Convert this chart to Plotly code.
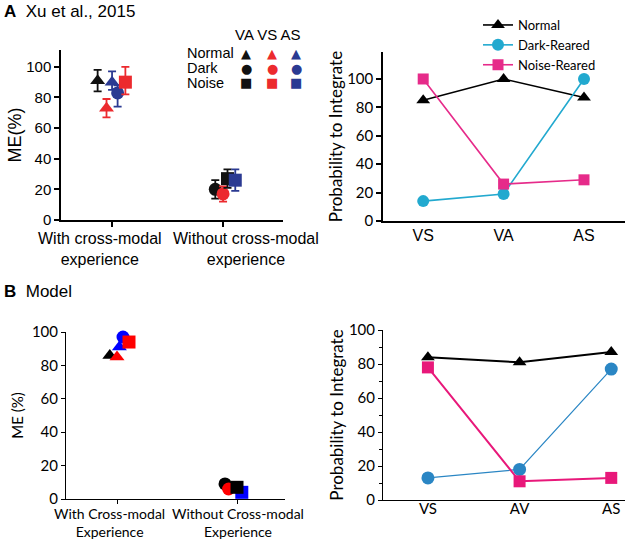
import plotly.graph_objects as go

# ---- data ----
conditions = ['Normal VA', 'Normal VS', 'Normal AS', 'Dark AS', 'Noise VS',
              'Dark VA', 'Dark VS', 'Noise VA', 'Noise AS']
groups = [1, 1, 1, 1, 1, 2, 2, 2, 2]   # 1 = with, 2 = without cross-modal experience
group_labels_a = ['With cross-modal<br>experience', 'Without cross-modal<br>experience']
group_labels_b = ['With Cross-modal<br>Experience', 'Without Cross-modal<br>Experience']

xu_me = [91, 73, 90, 83, 90, 20, 17, 27, 26]
xu_err_up = [7, 6, 7, 5, 10, 6, 5, 6, 7]
xu_err_down = [7, 6, 5, 9, 8, 6, 5, 6, 7]
model_me = [86, 85, 91, 97, 94, 9, 6, 7, 4]

pairs_a = ['VS', 'VA', 'AS']
xu_normal = [85, 100, 87]
xu_dark = [14, 19, 100]
xu_noise = [100, 26, 29]

pairs_b = ['VS', 'AV', 'AS']
model_normal = [84, 81, 87]
model_dark = [13, 18, 77]
model_noise = [78, 11, 13]

# ---- style ----
W, H = 640, 541
ARIAL = 'Liberation Sans, Arial, sans-serif'
MYRIAD = 'Lato, Open Sans, sans-serif'
jitter_a = [-0.13, -0.05, 0.0, 0.05, 0.12, -0.07, 0.0, 0.04, 0.11]
jitter_b = [-0.06, 0.0, 0.02, 0.05, 0.10, -0.10, -0.07, 0.0, 0.04]
symbols = {'Normal': 'triangle-up', 'Dark': 'circle', 'Noise': 'square'}
cols_a = {'VA': '#111111', 'VS': '#ec2a2e', 'AS': '#2b3a92'}
cols_b = {'VA': '#000000', 'VS': '#ff0000', 'AS': '#0000ff'}


def px_x(p):
    return p / W


def px_y(p):
    return 1 - p / H


def label(x, y, text, font, xanchor='center'):
    fig.add_annotation(x=px_x(x), y=px_y(y), xref='paper', yref='paper',
                       xanchor=xanchor, yanchor='middle', showarrow=False,
                       text=text, font=font)


fig = go.Figure()

# Panel A left
for i, c in enumerate(conditions):
    rear, pair = c.split()
    fig.add_trace(go.Scatter(
        x=[groups[i] + jitter_a[i]], y=[xu_me[i]],
        mode='markers',
        marker=dict(symbol=symbols[rear], size=13, color=cols_a[pair]),
        error_y=dict(type='data', symmetric=False, array=[xu_err_up[i]],
                     arrayminus=[xu_err_down[i]], color=cols_a[pair],
                     thickness=1.8, width=4),
        showlegend=False, xaxis='x', yaxis='y', cliponaxis=False
    ))

# Panel B left
order_b = [0, 2, 1, 3, 4, 5, 6, 8, 7]
for i in order_b:
    rear, pair = conditions[i].split()
    fig.add_trace(go.Scatter(
        x=[groups[i] + jitter_b[i]], y=[model_me[i]],
        mode='markers',
        marker=dict(symbol=symbols[rear], size=13, color=cols_b[pair]),
        showlegend=False, xaxis='x3', yaxis='y3', cliponaxis=False
    ))

# Panel A right
line_specs_a = [
    ('Normal', xu_normal, '#000000', 'triangle-up', 12),
    ('Dark-Reared', xu_dark, '#22a9cf', 'circle', 12),
    ('Noise-Reared', xu_noise, '#e62b8a', 'square', 11),
]
for name, vals, col, sym, sz in line_specs_a:
    fig.add_trace(go.Scatter(
        x=pairs_a, y=vals, name=name, mode='lines+markers',
        line=dict(color=col, width=1.6),
        marker=dict(symbol=sym, size=sz, color=col),
        xaxis='x2', yaxis='y2', cliponaxis=False
    ))

# Panel B right
line_specs_b = [
    ('Normal', model_normal, '#000000', 'triangle-up', 12, 2),
    ('Dark-Reared', model_dark, '#2a86c4', 'circle', 13, 1.2),
    ('Noise-Reared', model_noise, '#e8187a', 'square', 12, 2),
]
for name, vals, col, sym, sz, lw in line_specs_b:
    fig.add_trace(go.Scatter(
        x=pairs_b, y=vals, name=name, mode='lines+markers',
        line=dict(color=col, width=lw),
        marker=dict(symbol=sym, size=sz, color=col),
        showlegend=False, xaxis='x4', yaxis='y4', cliponaxis=False
    ))

axis_common = dict(showgrid=False, zeroline=False, showline=True,
                   linecolor='black', linewidth=1.5, ticks='outside',
                   tickcolor='black', ticklen=5, tickwidth=1.5,
                   automargin=False, tickangle=0)

fig.update_layout(
    width=W, height=H,
    margin=dict(l=0, r=0, t=0, b=0),
    paper_bgcolor='white', plot_bgcolor='white',
    font=dict(family=ARIAL, color='black', size=14),
    xaxis=dict(axis_common, domain=[px_x(61), px_x(283)], range=[0.54, 2.54],
               tickvals=[1, 2], showticklabels=False, anchor='y'),
    yaxis=dict(axis_common, domain=[px_y(220), px_y(50)], range=[0, 111],
               tickvals=[0, 20, 40, 60, 80, 100], tickfont=dict(size=15),
               title=dict(text='ME(%)', font=dict(size=18), standoff=0), anchor='x'),
    xaxis2=dict(axis_common, domain=[px_x(383), px_x(625)], range=[-0.5, 2.51],
                type='category', ticks='', tickfont=dict(size=16),
                ticklabelstandoff=-1, anchor='y2'),
    yaxis2=dict(axis_common, domain=[px_y(221), px_y(52)], range=[0, 119],
                tickvals=[0, 20, 40, 60, 80, 100], tickfont=dict(family=MYRIAD, size=15),
                title=dict(text='Probability to Integrate',
                           font=dict(family=MYRIAD, size=17), standoff=0),
                anchor='x2'),
    xaxis3=dict(axis_common, domain=[px_x(66), px_x(285)], range=[0.575, 2.4],
                tickvals=[1, 2], showticklabels=False, linewidth=1, tickwidth=1,
                ticklen=4, anchor='y3'),
    yaxis3=dict(axis_common, domain=[px_y(499), px_y(332)], range=[0, 100],
                tickvals=[0, 20, 40, 60, 80, 100], linewidth=1, tickwidth=1, ticklen=4,
                tickfont=dict(family=MYRIAD, size=15),
                title=dict(text='ME (%)', font=dict(family=MYRIAD, size=15), standoff=4),
                anchor='x3'),
    xaxis4=dict(axis_common, domain=[px_x(383), px_x(625)], range=[-0.49, 2.15],
                type='category', linewidth=1, tickwidth=1, ticks='',
                tickfont=dict(family=MYRIAD, size=15), ticklabelstandoff=-5,
                anchor='y4'),
    yaxis4=dict(axis_common, domain=[px_y(500), px_y(330)], range=[0, 100],
                tickvals=[0, 20, 40, 60, 80, 100], linewidth=1, tickwidth=1, ticklen=4,
                minor=dict(dtick=10, ticks='outside', ticklen=3, tickcolor='black'),
                tickfont=dict(family=MYRIAD, size=15),
                title=dict(text='Probability to Integrate',
                           font=dict(family=MYRIAD, size=17), standoff=0),
                anchor='x4'),
    legend=dict(x=px_x(478), y=px_y(10), xanchor='left', yanchor='top',
                bgcolor='rgba(0,0,0,0)', font=dict(family=MYRIAD, size=13),
                itemwidth=30, tracegroupgap=0),
)

# Category labels (set slightly off the ticks, as in the original figure)
label_pos_a = [100, 246]
for k, txt in enumerate(group_labels_a):
    label(label_pos_a[k], 249, txt, dict(size=16))
label_pos_b = [109, 238]
for k, txt in enumerate(group_labels_b):
    label(label_pos_b[k], 522, txt, dict(family=MYRIAD, size=14))

# Panel titles
label(2, 12, '<b>A</b>  Xu et al., 2015', dict(size=17), xanchor='left')
label(2, 291, '<b>B</b>  Model', dict(size=17), xanchor='left')

# Inset key for panel A left
label(268, 34, 'VA VS AS', dict(size=15))
row_names = ['Normal', 'Dark', 'Noise']
glyphs = {'Normal': '▲', 'Dark': '●', 'Noise': '■'}
col_px = [246, 272, 296]
for r, rear in enumerate(row_names):
    ypx = 53 + r * 15
    label(185, ypx, rear, dict(size=14.5), xanchor='left')
    for k, pair in enumerate(['VA', 'VS', 'AS']):
        label(col_px[k], ypx, glyphs[rear],
              dict(family='DejaVu Sans', size=13, color=cols_a[pair]))

fig.write_html("out.html", config={'displayModeBar': False},
               post_script="document.body.style.margin='0px';")
